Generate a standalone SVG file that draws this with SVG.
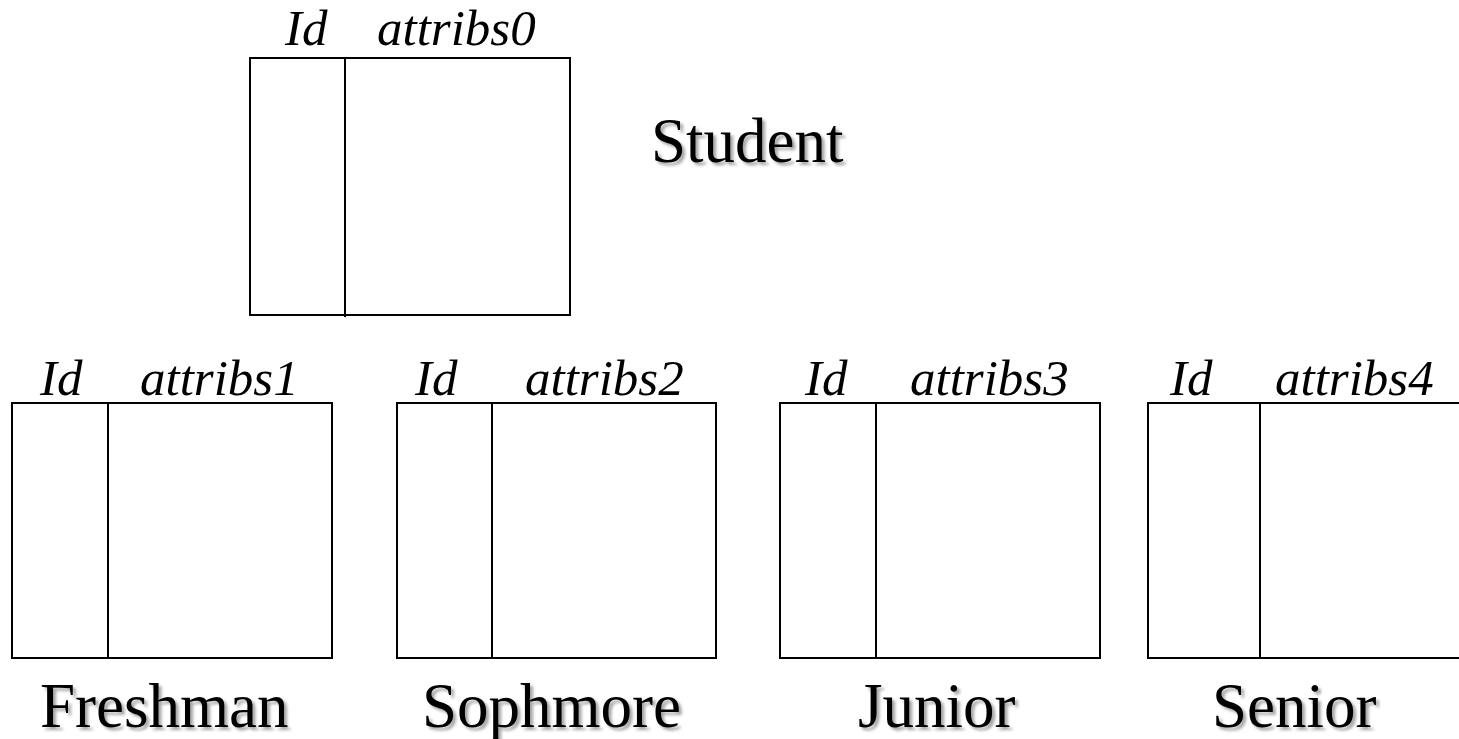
<svg xmlns="http://www.w3.org/2000/svg" width="1459" height="739" viewBox="0 0 1459 739">
<defs>
<filter id="sh" x="-10%" y="-20%" width="130%" height="150%">
<feDropShadow dx="3" dy="3" stdDeviation="1.5" flood-color="#000" flood-opacity="0.35"/>
</filter>
</defs>
<style>
.box{fill:#fff;stroke:#000;stroke-width:2}
.div{stroke:#000;stroke-width:2}
.hd{font-family:"Liberation Serif",serif;font-style:italic;font-size:51px;fill:#000}
.nm{font-family:"Liberation Serif",serif;font-size:63px;fill:#000;filter:url(#sh)}
</style>
<rect width="1459" height="739" fill="#fff"/>
<g id="student">
<rect class="box" x="250" y="58" width="320" height="257"/>
<line class="div" x1="345" y1="58" x2="345" y2="317"/>
<text class="hd" x="285" y="45">Id</text>
<text class="hd" x="377" y="45">attribs0</text>
<text class="nm" x="651" y="162">Student</text>
</g>
<g id="freshman">
<rect class="box" x="12" y="403" width="320" height="255"/>
<line class="div" x1="108" y1="403" x2="108" y2="658"/>
<text class="hd" x="40" y="395">Id</text>
<text class="hd" x="140" y="395">attribs1</text>
<text class="nm" x="40" y="727">Freshman</text>
</g>
<g id="sophmore">
<rect class="box" x="397" y="403" width="319" height="255"/>
<line class="div" x1="492" y1="403" x2="492" y2="658"/>
<text class="hd" x="415" y="395">Id</text>
<text class="hd" x="525" y="395">attribs2</text>
<text class="nm" x="422" y="727">Sophmore</text>
</g>
<g id="junior">
<rect class="box" x="780" y="403" width="320" height="255"/>
<line class="div" x1="876" y1="403" x2="876" y2="658"/>
<text class="hd" x="805" y="395">Id</text>
<text class="hd" x="910" y="395">attribs3</text>
<text class="nm" x="858" y="727">Junior</text>
</g>
<g id="senior">
<rect class="box" x="1148" y="403" width="330" height="255"/>
<line class="div" x1="1260" y1="403" x2="1260" y2="658"/>
<text class="hd" x="1170" y="395">Id</text>
<text class="hd" x="1275" y="395">attribs4</text>
<text class="nm" x="1212" y="727">Senior</text>
</g>
<g id="connectors"/>
</svg>
